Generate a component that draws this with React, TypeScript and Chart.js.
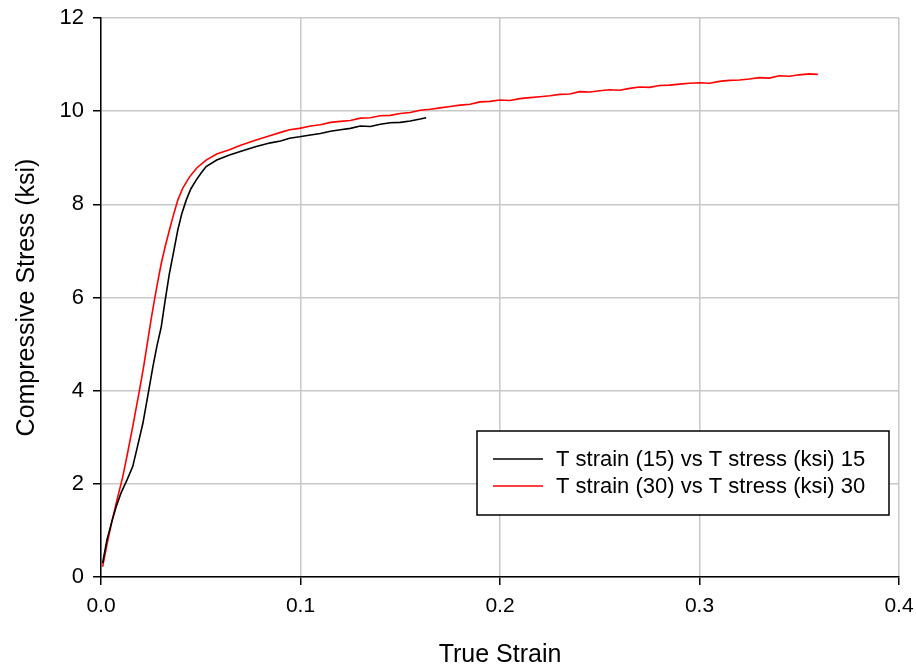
import React, { useEffect, useRef } from "react";
import { Chart, registerables } from "chart.js";

Chart.register(...registerables);

const strain15 = [0.0008, 0.003, 0.0055, 0.0076, 0.010, 0.013, 0.0159, 0.018, 0.021, 0.0235, 0.026, 0.028, 0.0302, 0.0322, 0.0343, 0.0365, 0.0385, 0.0405, 0.0427, 0.045, 0.0477, 0.050, 0.0527, 0.058, 0.0644, 0.071, 0.0778, 0.085, 0.090, 0.0945, 0.0995, 0.105, 0.110, 0.115, 0.120, 0.125, 0.130, 0.135, 0.140, 0.145, 0.150, 0.155, 0.160, 0.163];
const stress15 = [0.30, 0.80, 1.20, 1.51, 1.80, 2.08, 2.37, 2.75, 3.30, 3.90, 4.51, 4.95, 5.37, 5.95, 6.52, 7.00, 7.45, 7.80, 8.09, 8.33, 8.52, 8.66, 8.81, 8.95, 9.06, 9.15, 9.24, 9.32, 9.36, 9.42, 9.45, 9.49, 9.52, 9.57, 9.60, 9.63, 9.68, 9.67, 9.72, 9.75, 9.76, 9.79, 9.83, 9.86];

const strain30 = [0.0008, 0.003, 0.0055, 0.008, 0.0109, 0.0135, 0.0159, 0.0176, 0.0193, 0.0215, 0.0235, 0.0252, 0.0268, 0.0285, 0.0302, 0.0322, 0.0343, 0.0365, 0.0385, 0.041, 0.0444, 0.048, 0.0527, 0.058, 0.0644, 0.070, 0.0778, 0.085, 0.0905, 0.0945, 0.0995,
  0.105, 0.110, 0.115, 0.120, 0.125, 0.130, 0.135, 0.140, 0.145, 0.150, 0.155, 0.160, 0.165, 0.170, 0.175, 0.180, 0.185, 0.190, 0.195, 0.200, 0.205, 0.210, 0.215, 0.220, 0.225, 0.230, 0.235, 0.240, 0.245, 0.250, 0.255, 0.260, 0.265, 0.270, 0.275, 0.280, 0.285, 0.290, 0.295, 0.300, 0.305, 0.310, 0.315, 0.320, 0.325, 0.330, 0.335, 0.340, 0.345, 0.350, 0.355, 0.3593];
const stress30 = [0.22, 0.70, 1.20, 1.65, 2.15, 2.70, 3.23, 3.62, 4.01, 4.55, 5.09, 5.55, 5.95, 6.35, 6.73, 7.10, 7.45, 7.80, 8.09, 8.35, 8.59, 8.78, 8.95, 9.08, 9.17, 9.27, 9.38, 9.48, 9.55, 9.60, 9.63,
  9.68, 9.71, 9.76, 9.78, 9.80, 9.85, 9.86, 9.90, 9.91, 9.95, 9.97, 10.02, 10.04, 10.07, 10.10, 10.13, 10.15, 10.20, 10.21, 10.24, 10.23, 10.27, 10.29, 10.31, 10.33, 10.36, 10.37, 10.42, 10.41, 10.44, 10.46, 10.45, 10.49, 10.52, 10.51, 10.55, 10.56, 10.58, 10.60, 10.61, 10.60, 10.64, 10.66, 10.67, 10.69, 10.72, 10.71, 10.76, 10.75, 10.78, 10.80, 10.79];

const seriesLabels = ["T strain (15) vs T stress (ksi) 15", "T strain (30) vs T stress (ksi) 30"];
const seriesColors = ["#000000", "#ff0000"];
const xTicks = [0, 0.1, 0.2, 0.3, 0.4];
const yTicks = [0, 2, 4, 6, 8, 10, 12];

const FONT = "'Liberation Sans', Arial, sans-serif";

const legendPlugin = {
  id: "boxLegend",
  afterDraw(chart: any) {
    const { ctx, chartArea } = chart;
    const left = chartArea.right - 422;
    const top = chartArea.bottom - 146;
    const w = 412;
    const h = 84;
    ctx.save();
    ctx.fillStyle = "#ffffff";
    ctx.fillRect(left, top, w, h);
    ctx.strokeStyle = "#000000";
    ctx.lineWidth = 1.5;
    ctx.strokeRect(left, top, w, h);
    ctx.font = `22px ${FONT}`;
    ctx.textBaseline = "middle";
    chart.data.datasets.forEach((ds: any, i: number) => {
      const y = top + 28 + i * 27;
      ctx.strokeStyle = ds.borderColor;
      ctx.lineWidth = 1.5;
      ctx.beginPath();
      ctx.moveTo(left + 16, y);
      ctx.lineTo(left + 66, y);
      ctx.stroke();
      ctx.fillStyle = "#000000";
      ctx.fillText(ds.label, left + 79, y + 1);
    });
    ctx.restore();
  },
};

export default function App() {
  const ref = useRef<HTMLCanvasElement>(null);
  useEffect(() => {
    if (!ref.current) return;
    const chart = new Chart(ref.current, {
      type: "line",
      data: {
        datasets: [
          {
            label: seriesLabels[0],
            data: strain15.map((x, i) => ({ x, y: stress15[i] })),
            borderColor: seriesColors[0],
            borderWidth: 1.6,
            pointRadius: 0,
            tension: 0,
            fill: false,
          },
          {
            label: seriesLabels[1],
            data: strain30.map((x, i) => ({ x, y: stress30[i] })),
            borderColor: seriesColors[1],
            borderWidth: 1.6,
            pointRadius: 0,
            tension: 0,
            fill: false,
          },
        ],
      },
      options: {
        responsive: false,
        animation: false,
        layout: { padding: { top: 18, right: 17, left: 0, bottom: 0 } },
        plugins: { legend: { display: false }, tooltip: { enabled: false } },
        scales: {
          x: {
            type: "linear",
            min: 0,
            max: 0.4,
            afterBuildTicks: (s: any) => {
              s.ticks = xTicks.map((v) => ({ value: v }));
            },
            afterFit: (s: any) => {
              s.height = 91;
              s.paddingLeft = 0;
              s.paddingRight = 0;
            },
            ticks: {
              color: "#000",
              font: { family: FONT, size: 21 },
              padding: 9,
              maxRotation: 0,
              callback: (v: any) => Number(v).toFixed(1),
            },
            grid: {
              color: "#c8c8c8",
              lineWidth: 1.5,
              tickLength: 8,
              tickColor: "#000",
              tickWidth: 1.5,
            },
            border: { color: "#000", width: 1.5 },
            title: {
              display: true,
              text: "True Strain",
              color: "#000",
              font: { family: FONT, size: 25, lineHeight: 1.05 },
              padding: { top: 0, bottom: 0 },
            },
          },
          y: {
            type: "linear",
            min: 0,
            max: 12,
            afterBuildTicks: (s: any) => {
              s.ticks = yTicks.map((v) => ({ value: v }));
            },
            afterFit: (s: any) => {
              s.width = 101;
              s.paddingTop = 0;
              s.paddingBottom = 0;
            },
            ticks: {
              color: "#000",
              font: { family: FONT, size: 22 },
              padding: 9,
              callback: (v: any) => String(v),
            },
            grid: {
              color: "#c8c8c8",
              lineWidth: 1.5,
              tickLength: 8,
              tickColor: "#000",
              tickWidth: 1.5,
            },
            border: { color: "#000", width: 1.5 },
            title: {
              display: true,
              text: "Compressive Stress (ksi)",
              color: "#000",
              font: { family: FONT, size: 25 },
              padding: { top: 12, bottom: 0 },
            },
          },
        },
      },
      plugins: [legendPlugin],
    } as any);
    return () => chart.destroy();
  }, []);
  return (
    <div style={{ position: "fixed", left: 0, top: 0, width: 916, height: 668, background: "#fff" }}>
      <canvas ref={ref} width={916} height={668} style={{ width: 916, height: 668, display: "block" }} />
    </div>
  );
}
